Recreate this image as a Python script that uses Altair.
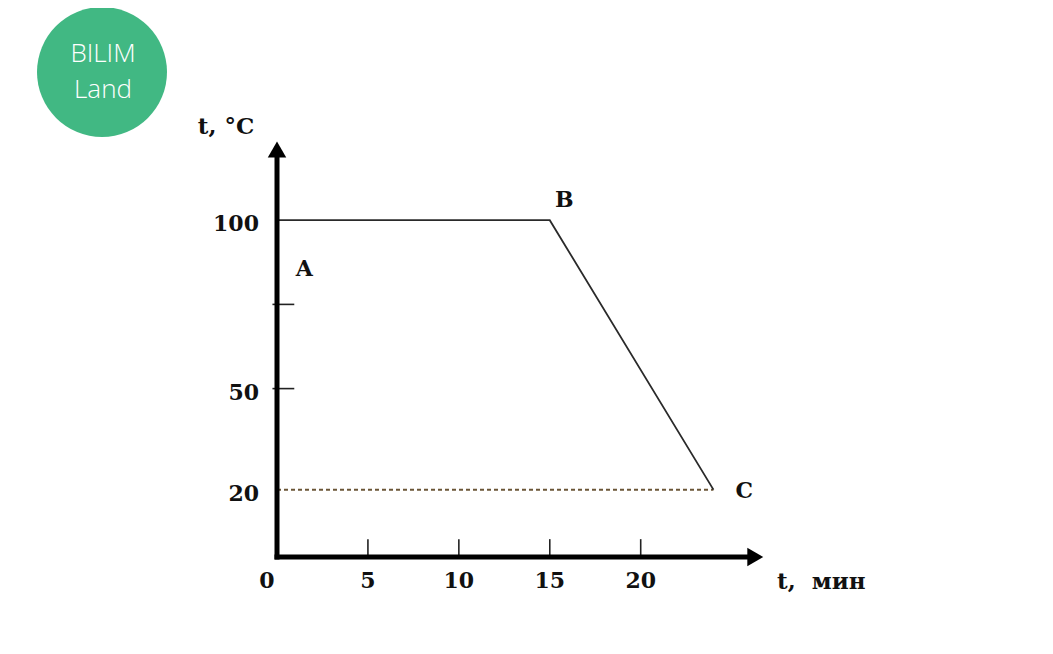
import altair as alt
import pandas as pd

# ---- data ----
curve_t = [0, 15, 24]
curve_temp = [100, 100, 20]
room_t = [0, 24]
room_temp = [20, 20]
x_tick_vals = [5, 10, 15, 20]
x_label_vals = [5, 10, 15, 20]
x_label_text = ["5", "10", "15", "20"]
origin_label = "0"
y_tick_vals = [50, 75]
y_label_vals = [20, 50, 100]
y_label_text = ["20", "50", "100"]
point_names = ["A", "B", "C"]
point_x = [1.5, 15.8, 25.7]
point_y = [85.5, 106, 19.6]
x_axis_end = 26.3
y_axis_end = 121
x_title = "t,\u00a0\u00a0мин"
y_title = "t, °C"
x_title_pos = (27.5, -7.4)
y_title_pos = (-2.8, 127.6)
x_tick_len = 5.3
y_tick_span = (-0.25, 0.95)

FONT = "DejaVu Serif"
FS = 22
xs = alt.Scale(domain=[0, 27], nice=False, zero=False)
ys = alt.Scale(domain=[0, 125], nice=False, zero=False)


def X(field="x"):
    return alt.X(f"{field}:Q", scale=xs, axis=None)


def Y(field="y"):
    return alt.Y(f"{field}:Q", scale=ys, axis=None)


def txt(**kw):
    base = dict(font=FONT, fontWeight="bold", fontSize=FS, color="#111", baseline="middle")
    base.update(kw)
    return base


# axis lines
axes_df = pd.DataFrame({
    "x": [0, 0], "x2": [x_axis_end, 0],
    "y": [0, 0], "y2": [0, y_axis_end],
})
axes = alt.Chart(axes_df).mark_rule(color="black", strokeWidth=5, strokeCap="square").encode(
    x=X(), x2="x2:Q", y=Y(), y2="y2:Q")

arrow_x = alt.Chart(pd.DataFrame({"x": [x_axis_end], "y": [0]})).mark_point(
    shape="triangle-right", filled=True, color="black", size=340, opacity=1).encode(x=X(), y=Y())
arrow_y = alt.Chart(pd.DataFrame({"x": [0], "y": [y_axis_end]})).mark_point(
    shape="triangle-up", filled=True, color="black", size=340, opacity=1).encode(x=X(), y=Y())

# ticks
xt_df = pd.DataFrame({"x": x_tick_vals, "y": [0] * len(x_tick_vals), "y2": [x_tick_len] * len(x_tick_vals)})
xticks = alt.Chart(xt_df).mark_rule(color="#222", strokeWidth=1.6).encode(x=X(), y=Y(), y2="y2:Q")
yt_df = pd.DataFrame({"y": y_tick_vals, "x": [y_tick_span[0]] * len(y_tick_vals),
                      "x2": [y_tick_span[1]] * len(y_tick_vals)})
yticks = alt.Chart(yt_df).mark_rule(color="#222", strokeWidth=1.6).encode(x=X(), x2="x2:Q", y=Y())

# tick labels
xl_df = pd.DataFrame({"x": x_label_vals, "y": [0] * len(x_label_vals), "t": x_label_text})
xlabels = alt.Chart(xl_df).mark_text(**txt(dy=24)).encode(x=X(), y=Y(), text="t:N")
x0label = alt.Chart(pd.DataFrame({"x": [0], "y": [0], "t": [origin_label]})).mark_text(
    **txt(dy=24, dx=-10)).encode(x=X(), y=Y(), text="t:N")
yl_df = pd.DataFrame({"x": [0] * len(y_label_vals), "y": y_label_vals, "t": y_label_text})
ylabels = alt.Chart(yl_df).mark_text(**txt(align="right", dx=-18, dy=4)).encode(
    x=X(), y=Y(), text="t:N")

# titles
xtitle = alt.Chart(pd.DataFrame({"x": [x_title_pos[0]], "y": [x_title_pos[1]], "t": [x_title]})).mark_text(
    **txt(align="left", fontSize=23)).encode(x=X(), y=Y(), text="t:N")
ytitle = alt.Chart(pd.DataFrame({"x": [y_title_pos[0]], "y": [y_title_pos[1]], "t": [y_title]})).mark_text(
    **txt(align="center", fontSize=23)).encode(x=X(), y=Y(), text="t:N")

# data lines
curve = alt.Chart(pd.DataFrame({"x": curve_t, "y": curve_temp, "o": range(len(curve_t))})).mark_line(
    color="#2a2a2a", strokeWidth=1.8).encode(x=X(), y=Y(), order="o:Q")
room = alt.Chart(pd.DataFrame({"x": room_t, "y": room_temp})).mark_line(
    color="#6b5637", strokeWidth=2, strokeDash=[4, 3]).encode(x=X(), y=Y())

# point labels
pts = alt.Chart(pd.DataFrame({"x": point_x, "y": point_y, "t": point_names})).mark_text(
    **txt()).encode(x=X(), y=Y(), text="t:N")

# logo
logo = alt.Chart(pd.DataFrame({"a": [0]})).mark_circle(color="#41b883", opacity=1, size=16900).encode(
    x=alt.value(-175), y=alt.value(-64))
logo_t1 = alt.Chart(pd.DataFrame({"t": ["BILIM"]})).mark_text(
    font="Open Sans", fontWeight=300, fontSize=26, color="white", baseline="middle").encode(
    x=alt.value(-174), y=alt.value(-82), text="t:N")
logo_t2 = alt.Chart(pd.DataFrame({"t": ["Land"]})).mark_text(
    font="Open Sans", fontWeight=300, fontSize=26, color="white", baseline="middle").encode(
    x=alt.value(-174), y=alt.value(-46), text="t:N")

chart = alt.layer(room, curve, xticks, yticks, axes, arrow_x, arrow_y, xlabels, x0label, ylabels,
                  xtitle, ytitle, pts, logo, logo_t1, logo_t2).properties(
    width=491, height=421,
    padding={"left": 269, "top": 128, "right": 260, "bottom": 60},
    autosize="none",
).configure_view(stroke=None)

chart.save("out.html", embed_options={"renderer": "svg", "actions": False})
